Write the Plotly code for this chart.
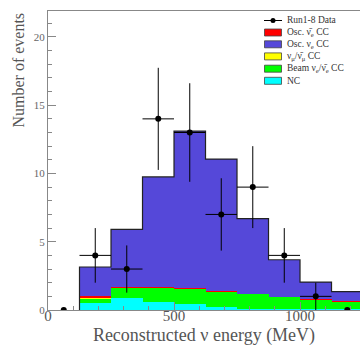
import plotly.graph_objects as go

# ---- data ----
bin_edges = [125, 250, 375, 500, 625, 750, 875, 1000, 1125, 1250]
bin_centers = [187.5, 312.5, 437.5, 562.5, 687.5, 812.5, 937.5, 1062.5, 1187.5]
nc = [0.50, 0.88, 0.62, 0.45, 0.20, 0.10, 0.08, 0.06, 0.05]
beam_nue = [0.32, 0.74, 1.01, 1.15, 1.13, 1.08, 0.88, 0.70, 0.58]
numu_cc = [0.06, 0.02, 0.01, 0.01, 0.01, 0.00, 0.00, 0.00, 0.00]
osc_nuebar = [0.11, 0.02, 0.02, 0.02, 0.02, 0.02, 0.01, 0.01, 0.01]
osc_nue = [2.16, 4.24, 8.09, 11.47, 9.69, 5.50, 2.71, 1.27, 0.71]
total_mc = [3.15, 5.90, 9.75, 13.10, 11.05, 6.70, 3.68, 2.04, 1.35]

data_x = [62.5, 187.5, 312.5, 437.5, 562.5, 687.5, 812.5, 937.5, 1062.5, 1187.5]
data_y = [0, 4, 3, 14, 13, 7, 9, 4, 1, 0]
data_err = [0, 2.0, 1.73, 3.74, 3.61, 2.65, 3.0, 2.0, 1.0, 0]
data_xerr = [0, 62.5, 62.5, 62.5, 62.5, 62.5, 62.5, 62.5, 62.5, 0]

x_ticks = [0, 500, 1000]
x_ticktext = ["0", "500", "1000"]

legend_labels = [
    "Run1-8 Data",
    "Osc. ν̄<sub>e</sub> CC",
    "Osc. ν<sub>e</sub> CC",
    "ν<sub>μ</sub>/ν̄<sub>μ</sub> CC",
    "Beam ν<sub>e</sub>/ν̄<sub>e</sub> CC",
    "NC",
]

colors = {
    "nc": "#00ffff",
    "beam": "#00ff00",
    "numu": "#ffff00",
    "oscbar": "#ff0000",
    "osc": "#5548d9",
}

FONT = "Liberation Serif, Times New Roman, serif"

fig = go.Figure()

stack = [
    (legend_labels[5], nc, colors["nc"]),
    (legend_labels[4], beam_nue, colors["beam"]),
    (legend_labels[3], numu_cc, colors["numu"]),
    (legend_labels[1], osc_nuebar, colors["oscbar"]),
    (legend_labels[2], osc_nue, colors["osc"]),
]
for name, vals, col in stack:
    fig.add_trace(go.Bar(
        x=bin_centers, y=vals, width=125, name=name,
        marker=dict(color=col, line=dict(width=0)),
        showlegend=False,
    ))

# outline of the total MC histogram
step_x = [bin_edges[0]] + bin_edges
step_y = [0] + total_mc + [total_mc[-1]]
fig.add_trace(go.Scatter(
    x=step_x, y=step_y, mode="lines", line=dict(color="#222222", width=1.2, shape="hv"),
    showlegend=False, hoverinfo="skip",
))

fig.add_trace(go.Scatter(
    x=data_x, y=data_y, mode="markers", name=legend_labels[0],
    marker=dict(color="black", size=6),
    error_y=dict(type="data", array=data_err, color="black", thickness=1, width=0),
    error_x=dict(type="data", array=data_xerr, color="black", thickness=1, width=0),
    showlegend=False,
))

# ---- hand-drawn legend (ROOT style, compact rows) ----
PLOT_L, PLOT_R, PLOT_T, PLOT_B = 48, 360, 11, 310
def px_x(p):
    return (p - PLOT_L) / (PLOT_R - PLOT_L)
def px_y(p):
    return (PLOT_B - p) / (PLOT_B - PLOT_T)

row_px = [20.5, 32.5, 44.3, 56.4, 68.7, 80.8]
swatch_cols = [None, colors["oscbar"], colors["osc"], colors["numu"], colors["beam"], colors["nc"]]
shapes = []
annotations = []
for i, (lab, col) in enumerate(zip(legend_labels, swatch_cols)):
    yc = row_px[i]
    if col is None:
        shapes.append(dict(type="line", xref="paper", yref="paper",
                           x0=px_x(264), x1=px_x(282), y0=px_y(yc), y1=px_y(yc),
                           line=dict(color="black", width=1)))
        shapes.append(dict(type="circle", xref="paper", yref="paper",
                           x0=px_x(270.5), x1=px_x(275.5), y0=px_y(yc + 2.5), y1=px_y(yc - 2.5),
                           fillcolor="black", line=dict(color="black", width=0)))
    else:
        shapes.append(dict(type="rect", xref="paper", yref="paper",
                           x0=px_x(264.5), x1=px_x(281.5), y0=px_y(yc + 3.5), y1=px_y(yc - 3.5),
                           fillcolor=col, line=dict(color="#444444", width=0.8)))
    annotations.append(dict(
        text=lab, xref="paper", yref="paper", x=px_x(284.5), y=px_y(yc),
        xanchor="left", yanchor="middle", showarrow=False,
        font=dict(family=FONT, size=9.5, color="#333333"),
    ))

annotations.append(dict(
    text="Number of events", xref="paper", yref="paper",
    x=-0.096, y=1.0, xanchor="center", yanchor="top", textangle=-90,
    showarrow=False, font=dict(family=FONT, size=16, color="#555555"),
))

fig.update_layout(
    width=360, height=346,
    margin=dict(l=PLOT_L, r=0, t=PLOT_T, b=346 - PLOT_B),
    barmode="stack", bargap=0,
    plot_bgcolor="white", paper_bgcolor="white",
    font=dict(family=FONT, color="#555555"),
    showlegend=False,
    hovermode=False,
    xaxis=dict(
        range=[0, 1238], showgrid=False, zeroline=False,
        showline=True, linecolor="#888888", linewidth=1.2, mirror=True,
        tickmode="array", tickvals=x_ticks, ticktext=x_ticktext,
        ticks="inside", ticklen=8, tickcolor="#888888",
        minor=dict(dtick=100, ticks="inside", ticklen=4, tickcolor="#888888"),
        tickfont=dict(size=15, color="#555555"),
        ticklabelstandoff=-8,
        title=dict(text="Reconstructed ν energy (MeV)", font=dict(size=18, color="#555555"), standoff=6),
    ),
    yaxis=dict(
        range=[0, 21.9], showgrid=False, zeroline=False,
        showline=True, linecolor="#888888", linewidth=1.2, mirror=False,
        dtick=5, ticks="inside", ticklen=8, tickcolor="#888888",
        minor=dict(dtick=1, ticks="inside", ticklen=4, tickcolor="#888888"),
        tickfont=dict(size=11, color="#666666"),
    ),
    shapes=shapes,
    annotations=annotations,
)

fig.write_html(
    "out.html",
    config={"displayModeBar": False},
    post_script="document.body.style.margin='0';document.body.style.overflow='hidden';",
)
